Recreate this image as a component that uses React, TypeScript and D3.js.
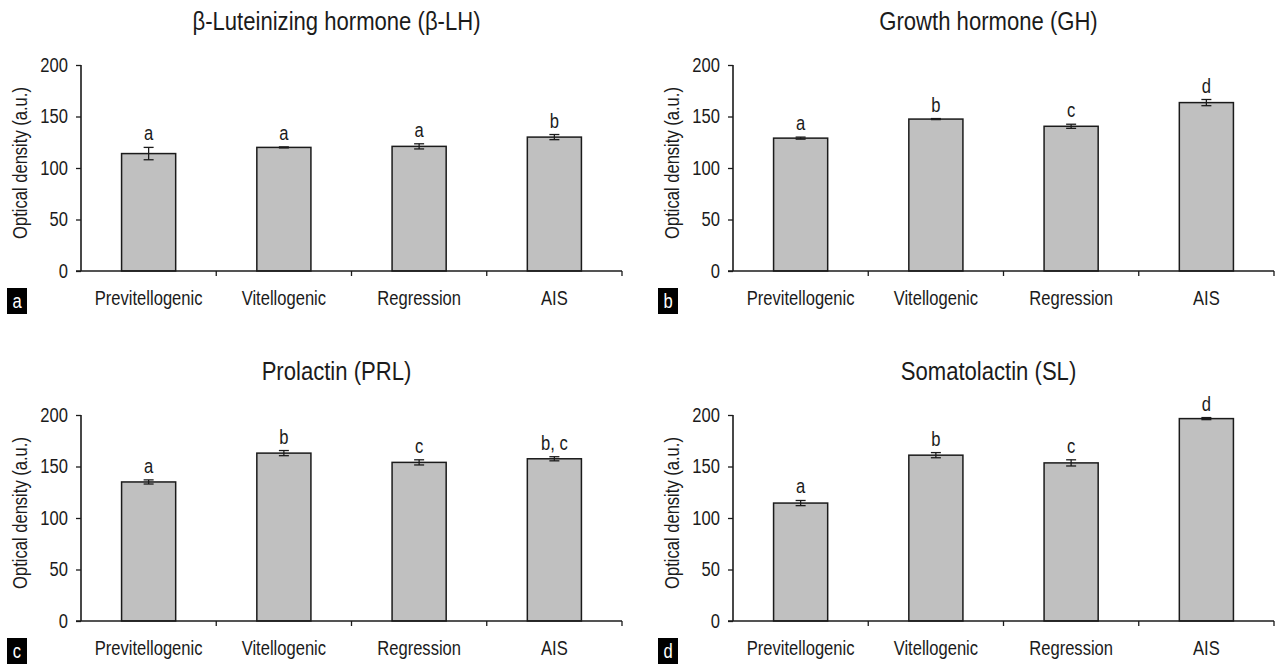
import React, { useRef, useEffect } from "react";
import * as d3 from "d3";

const categories = ["Previtellogenic", "Vitellogenic", "Regression", "AIS"];
const yTicks = [0, 50, 100, 150, 200];

const lhMeans = [114, 120, 121, 130];
const lhErrors = [6, 0.5, 2.5, 2.5];
const lhLetters = ["a", "a", "a", "b"];

const ghMeans = [129, 147.5, 140.5, 163.5];
const ghErrors = [1, 0.5, 2, 3];
const ghLetters = ["a", "b", "c", "d"];

const prlMeans = [135, 163, 154, 157.5];
const prlErrors = [2, 2.5, 2.5, 2];
const prlLetters = ["a", "b", "c", "b, c"];

const slMeans = [114.5, 161, 153.5, 196.5];
const slErrors = [2.5, 2.5, 3, 1];
const slLetters = ["a", "b", "c", "d"];

const FONT = "'Liberation Sans', Arial, sans-serif";
const INK = "#1b1b1b";
const SQUEEZE = 0.85; // the original uses a condensed face

const panels = [
  { tag: "a", title: "β-Luteinizing hormone (β-LH)", means: lhMeans, errors: lhErrors, letters: lhLetters, left: 81, bottom: 271 },
  { tag: "b", title: "Growth hormone (GH)", means: ghMeans, errors: ghErrors, letters: ghLetters, left: 733, bottom: 271 },
  { tag: "c", title: "Prolactin (PRL)", means: prlMeans, errors: prlErrors, letters: prlLetters, left: 81, bottom: 621 },
  { tag: "d", title: "Somatolactin (SL)", means: slMeans, errors: slErrors, letters: slLetters, left: 733, bottom: 621 },
];

// squeeze text horizontally, keeping its anchor point where it was
function narrow(sel: any) {
  sel.each(function (this: SVGTextElement) {
    const t = d3.select(this);
    const x = +(t.attr("x") || 0);
    const prev = t.attr("transform") || "";
    t.attr("x", x / SQUEEZE).attr("transform", `${prev} scale(${SQUEEZE},1)`);
  });
}

function addText(g: any, x: number, y: number, size: number, str: string, fill = INK) {
  const t = g
    .append("text")
    .attr("transform", `translate(${x},${y})`)
    .attr("text-anchor", "middle")
    .attr("font-family", FONT)
    .attr("font-size", size)
    .attr("fill", fill)
    .text(str);
  narrow(t);
  return t;
}

export default function App() {
  const ref = useRef<SVGSVGElement>(null);

  useEffect(() => {
    const svg = d3.select(ref.current);
    svg.selectAll("*").remove();

    const plotWidth = 541;
    const plotHeight = 206;

    panels.forEach((p) => {
      const g = svg.append("g").attr("transform", `translate(${p.left},${p.bottom - plotHeight})`);

      const x = d3.scaleBand().domain(categories).range([0, plotWidth]).paddingInner(0).paddingOuter(0);
      const y = d3.scaleLinear().domain([0, 200]).range([plotHeight, 0]);
      const barW = x.bandwidth() * 0.4;

      //---- bars ----//
      g.selectAll("rect.bar")
        .data(p.means)
        .join("rect")
        .attr("class", "bar")
        .attr("x", (d, i) => x(categories[i])! + (x.bandwidth() - barW) / 2)
        .attr("y", (d) => y(d))
        .attr("width", barW)
        .attr("height", (d) => y(0) - y(d))
        .attr("fill", "#c0c0c0")
        .attr("stroke", INK)
        .attr("stroke-width", 1.5);

      //---- error bars + letters ----//
      const cx = (i: number) => x(categories[i])! + x.bandwidth() / 2;
      p.means.forEach((m, i) => {
        const e = p.errors[i];
        const eg = g.append("g").attr("stroke", INK).attr("stroke-width", 1.3);
        eg.append("line").attr("x1", cx(i)).attr("x2", cx(i)).attr("y1", y(m - e)).attr("y2", y(m + e));
        eg.append("line").attr("x1", cx(i) - 5).attr("x2", cx(i) + 5).attr("y1", y(m - e)).attr("y2", y(m - e));
        eg.append("line").attr("x1", cx(i) - 5).attr("x2", cx(i) + 5).attr("y1", y(m + e)).attr("y2", y(m + e));
        addText(g, cx(i), y(m + e) - 7, 19.5, p.letters[i]);
      });

      //---- axes ----//
      const yAxis = g.append("g").call(d3.axisLeft(y).tickValues(yTicks).tickSize(5).tickPadding(8));
      yAxis.select(".domain").attr("d", `M0,${plotHeight}V0`);
      const xAxis = g
        .append("g")
        .attr("transform", `translate(0,${plotHeight})`)
        .call(d3.axisBottom(x).tickSize(0).tickPadding(20));
      xAxis.select(".domain").attr("d", `M-5,0H${plotWidth}`);
      // tick marks sit on the band edges
      const edges = d3.range(1, categories.length + 1).map((k) => k * x.step());
      xAxis.selectAll("line.edge")
        .data(edges)
        .join("line")
        .attr("class", "edge")
        .attr("x1", (d) => d)
        .attr("x2", (d) => d)
        .attr("y1", 0)
        .attr("y2", 5);

      [yAxis, xAxis].forEach((ax) => {
        ax.attr("font-family", FONT).attr("font-size", 19.5);
        ax.selectAll("text").attr("fill", INK).call(narrow);
        ax.selectAll("line").attr("stroke", INK).attr("stroke-width", 1.3);
        ax.select(".domain").attr("stroke", INK).attr("stroke-width", 1.6);
      });

      //---- titles ----//
      addText(g, plotWidth / 2 - 15, plotHeight - 241, 26, p.title);

      const yl = g
        .append("text")
        .attr("transform", `translate(-54,${plotHeight - 108}) rotate(-90)`)
        .attr("text-anchor", "middle")
        .attr("font-family", FONT)
        .attr("font-size", 19.5)
        .attr("fill", INK)
        .text("Optical density (a.u.)");
      narrow(yl);

      //---- panel tag ----//
      const tag = g.append("g").attr("transform", `translate(${p.left > 400 ? -75 : -74},${plotHeight + 17})`);
      tag.append("rect").attr("width", 20).attr("height", 26).attr("fill", "#000");
      addText(tag, 10, 19.5, 19.5, p.tag, "#fff");
    });
  }, []);

  return (
    <div style={{ position: "absolute", left: 0, top: 0 }}>
      <svg ref={ref} width={1275} height={666} style={{ display: "block", background: "#fff" }} />
    </div>
  );
}
